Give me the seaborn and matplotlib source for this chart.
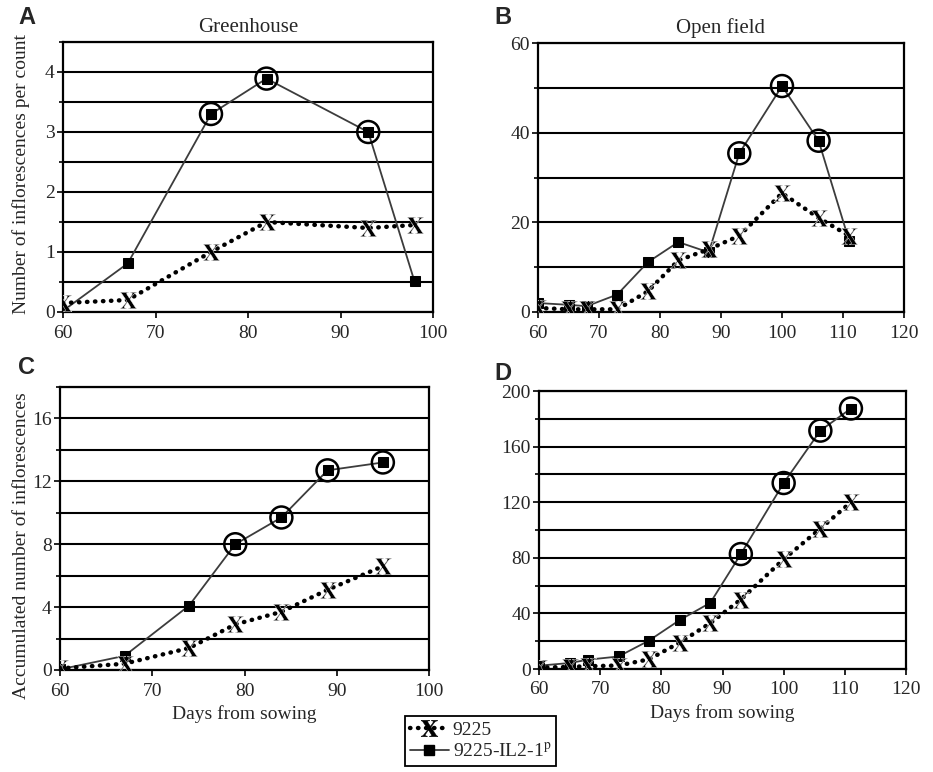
import numpy as np
import pandas as pd
import seaborn as sns
import matplotlib
matplotlib.use("Agg")
import matplotlib.pyplot as plt
from matplotlib.lines import Line2D
from matplotlib.ticker import MultipleLocator

# ---------------- data ----------------
# A: Greenhouse, inflorescences per count
gh_days = [60, 67, 76, 82, 93, 98]
gh_il2 = [0.02, 0.81, 3.30, 3.89, 3.00, 0.51]
gh_9225 = [0.15, 0.20, 1.00, 1.50, 1.40, 1.45]
gh_sig = [76, 82, 93]

# B: Open field, inflorescences per count
of_days = [60, 65, 68, 73, 78, 83, 88, 93, 100, 106, 111]
of_il2 = [2.0, 1.6, 1.3, 3.9, 11.1, 15.6, 13.3, 35.4, 50.4, 38.2, 15.9]
of_9225 = [0.9, 0.6, 0.6, 0.6, 4.6, 11.5, 14.0, 17.0, 26.5, 21.0, 17.0]
of_sig = [93, 100, 106]

# C: Greenhouse, accumulated
ghc_days = [60, 67, 74, 79, 84, 89, 95]
ghc_il2 = [0.04, 0.9, 4.1, 8.0, 9.7, 12.7, 13.2]
ghc_9225 = [0.1, 0.4, 1.4, 2.9, 3.7, 5.1, 6.6]
ghc_sig = [79, 84, 89, 95]

# D: Open field, accumulated
ofc_days = [60, 65, 68, 73, 78, 83, 88, 93, 100, 106, 111]
ofc_il2 = [2.4, 4.3, 6.7, 9.0, 20.5, 35.2, 47.6, 82.7, 133.8, 171.5, 187.4]
ofc_9225 = [1.0, 1.5, 2.0, 2.5, 7.0, 19.0, 33.0, 50.0, 79.0, 101.0, 120.0]
ofc_sig = [93, 100, 106, 111]

series_names = ["9225", "9225-IL2-1$^{\\mathrm{p}}$"]
panel_letters = ["A", "B", "C", "D"]
titles = ["Greenhouse", "Open field"]
ylabels = ["Number of inflorescences per count", "Accumulated number of inflorescences"]
xlabel = "Days from sowing"

# ---------------- style ----------------
sns.set_theme(style="white")
plt.rcParams["font.family"] = ["Liberation Serif", "DejaVu Serif"]
plt.rcParams["mathtext.fontset"] = "stix"

X_MARK = r"$\mathbf{X}$"
DOT_LS = (0, (0.1, 1.7))

fig = plt.figure(figsize=(9.33, 7.72), dpi=100)
W, H = 933.0, 772.0


def add_ax(left, top, right, bottom):
    return fig.add_axes([left / W, 1 - bottom / H, (right - left) / W, (bottom - top) / H])


axA = add_ax(63, 42, 433, 312)
axB = add_ax(538, 43, 904, 312)
axC = add_ax(60, 387, 429, 670)
axD = add_ax(539, 391, 906, 669)


def draw(ax, days, il2, v9225, sig, xmax, ymax, ymajor, yminor):
    sns.lineplot(x=days, y=il2, ax=ax, color="#3c3c3c", lw=1.3, marker="s",
                 markersize=6.5, markerfacecolor="black", markeredgecolor="black",
                 zorder=3)
    sns.lineplot(x=days, y=v9225, ax=ax, color="black", lw=3.2, linestyle=DOT_LS,
                 dash_capstyle="round", marker=X_MARK, markersize=12,
                 markeredgewidth=0.3, zorder=4)
    sig_vals = [il2[days.index(d)] for d in sig]
    sns.scatterplot(x=sig, y=sig_vals, ax=ax, marker="o", s=250, facecolor="none",
                    edgecolor="black", linewidth=1.8, zorder=5)
    ax.set_xlim(60, xmax)
    ax.set_ylim(0, ymax)
    ax.xaxis.set_major_locator(MultipleLocator(10))
    ax.yaxis.set_major_locator(MultipleLocator(ymajor))
    ax.yaxis.set_minor_locator(MultipleLocator(yminor))
    ax.grid(axis="y", which="both", color="black", lw=1.5)
    ax.grid(axis="x", visible=False)
    ax.set_axisbelow(True)
    for s in ax.spines.values():
        s.set_color("black")
        s.set_linewidth(1.6)
    ax.tick_params(axis="both", which="both", bottom=True, left=True, direction="out",
                   length=4, width=1.2, color="black", labelsize=14)
    ax.tick_params(axis="x", pad=5)
    ax.tick_params(axis="y", pad=2)
    ax.tick_params(axis="y", which="minor", length=3)
    ax.set_xlabel("")
    ax.set_ylabel("")


draw(axA, gh_days, gh_il2, gh_9225, gh_sig, 100, 4.5, 1, 0.5)
draw(axB, of_days, of_il2, of_9225, of_sig, 120, 60, 20, 10)
draw(axC, ghc_days, ghc_il2, ghc_9225, ghc_sig, 100, 18, 4, 2)
draw(axD, ofc_days, ofc_il2, ofc_9225, ofc_sig, 120, 200, 40, 20)

axA.set_title(titles[0], fontsize=15, pad=7)
axB.set_title(titles[1], fontsize=15, pad=7)
axA.set_ylabel(ylabels[0], fontsize=14)
axC.set_ylabel(ylabels[1], fontsize=14)
axA.yaxis.set_label_coords(-33 / 370, 0.51)
axC.yaxis.set_label_coords(-30 / 369, 0.44)
axC.set_xlabel(xlabel, fontsize=14, labelpad=4)
axD.set_xlabel(xlabel, fontsize=14, labelpad=4)

for letter, (x, y) in zip(panel_letters, [(18, 17), (494, 18), (18, 367), (494, 374)]):
    fig.text(x / W, 1 - y / H, letter, fontsize=17, fontweight="bold",
             family=["Liberation Sans", "DejaVu Sans"], va="center", ha="left")

handles = [
    Line2D([], [], color="black", lw=3.2, linestyle=DOT_LS, dash_capstyle="round",
           marker=X_MARK, markersize=12, markeredgewidth=0.3),
    Line2D([], [], color="#3c3c3c", lw=1.3, marker="s", markersize=7,
           markerfacecolor="black", markeredgecolor="black"),
]
leg = fig.legend(handles, series_names, loc="upper center", bbox_to_anchor=(0.515, 0.072),
                 frameon=True, fancybox=False, edgecolor="black", framealpha=1,
                 fontsize=14, handlelength=2.0, borderpad=0.25, labelspacing=0.15,
                 handletextpad=0.2, borderaxespad=0)
leg.get_frame().set_linewidth(1.3)

fig.savefig("out.png", dpi=100)
